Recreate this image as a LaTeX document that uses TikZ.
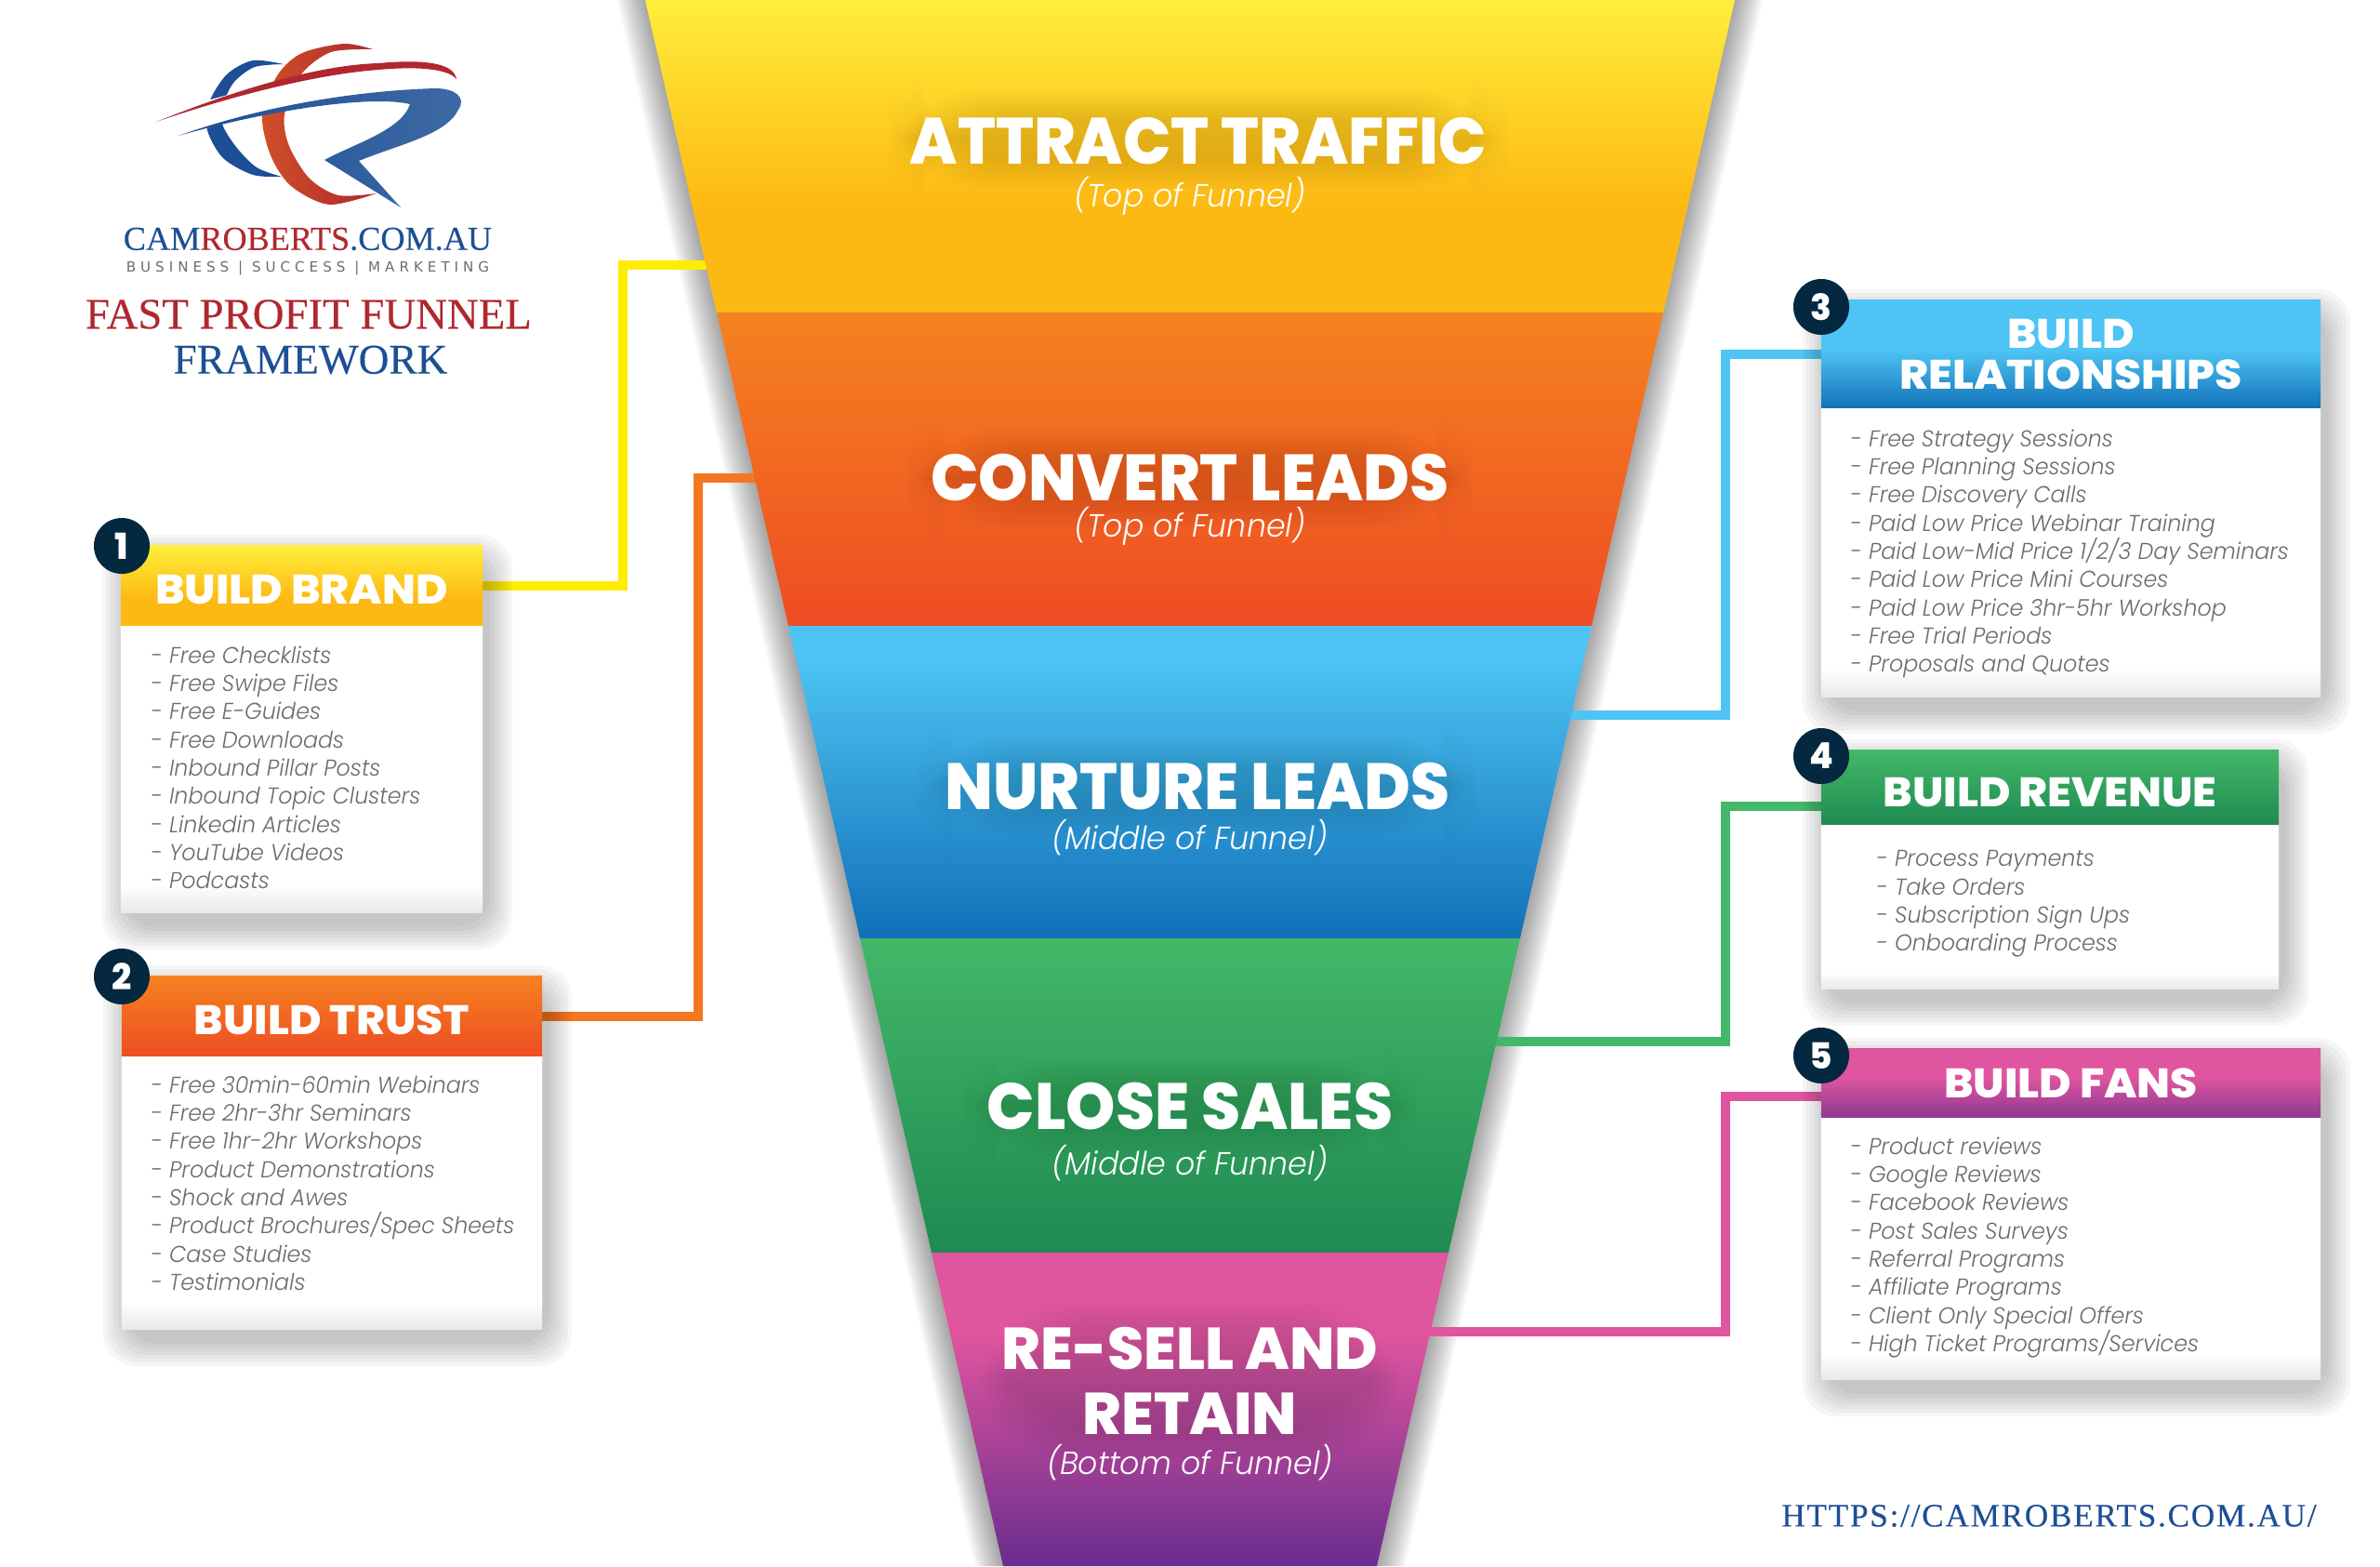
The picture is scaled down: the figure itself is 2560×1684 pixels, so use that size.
\documentclass[tikz,border=0pt]{standalone}
\usepackage{fontspec}
\usepackage{tikz}
\usetikzlibrary{positioning}
\setmainfont{Poppins}
\newfontfamily\titlefont[FakeStretch=0.965]{Poppins ExtraBold}
\newfontfamily\retainfont[FakeStretch=1.0]{Poppins ExtraBold}
\newfontfamily\headfont[FakeStretch=1.06]{Poppins ExtraBold}
\newfontfamily\itemfont[FakeStretch=0.965]{Poppins Light Italic}
\newfontfamily\logofont[FakeBold=0.25]{Liberation Serif}
\newfontfamily\linkfont[FakeBold=0.25,LetterSpace=5]{Liberation Serif}
\newfontfamily\tagfont[LetterSpace=33]{DejaVu Sans}
\definecolor{logoblue}{HTML}{1C4F95}
\definecolor{logored}{HTML}{B0272F}
\definecolor{itemgrey}{HTML}{6A6C6F}
\definecolor{badgenavy}{HTML}{04283F}
\definecolor{yellowtop}{HTML}{FFEE3A}
\definecolor{ambermid}{HTML}{FDB913}
\definecolor{orangetop}{HTML}{F58220}
\definecolor{orangelow}{HTML}{EE4C23}
\definecolor{bluetop}{HTML}{4DC4F4}
\definecolor{bluelow}{HTML}{1170B8}
\definecolor{greentop}{HTML}{43B868}
\definecolor{greenlow}{HTML}{1F8A52}
\definecolor{pinktop}{HTML}{E0559F}
\definecolor{purplelow}{HTML}{6A2D8E}
\definecolor{cardgrey}{HTML}{E9E9EA}
\pgfdeclareverticalshading{yellowband}{100bp}{color(0bp)=(ambermid); color(42bp)=(ambermid); color(75bp)=(yellowtop); color(100bp)=(yellowtop)}
\pgfdeclareverticalshading{orangeband}{100bp}{color(0bp)=(orangelow); color(25bp)=(orangelow); color(75bp)=(orangetop); color(100bp)=(orangetop)}
\pgfdeclareverticalshading{blueband}{100bp}{color(0bp)=(bluelow); color(25bp)=(bluelow); color(70bp)=(bluetop); color(100bp)=(bluetop)}
\pgfdeclareverticalshading{greenband}{100bp}{color(0bp)=(greenlow); color(25bp)=(greenlow); color(75bp)=(greentop); color(100bp)=(greentop)}
\pgfdeclareverticalshading{pinkband}{100bp}{color(0bp)=(purplelow); color(25bp)=(purplelow); color(62bp)=(pinktop); color(100bp)=(pinktop)}
\pgfdeclareverticalshading{bluehead}{100bp}{color(0bp)=(bluelow); color(25bp)=(bluelow); color(52bp)=(bluetop); color(100bp)=(bluetop)}
\pgfdeclareverticalshading{pinkhead}{100bp}{color(0bp)=(purplelow!70!pinktop); color(25bp)=(purplelow!70!pinktop); color(55bp)=(pinktop); color(100bp)=(pinktop)}
\pgfdeclareverticalshading{bodyfade}{100bp}{color(0bp)=(cardgrey); color(25bp)=(cardgrey); color(30bp)=(white); color(100bp)=(white)}
\pgfdeclarelayer{funnelshade}
\pgfdeclarelayer{lines}
\pgfsetlayers{funnelshade,lines,main}
\tikzset{x=0.01cm, y=-0.01cm,
  cardhead/.style = {shade, inner sep=0pt, outer sep=0pt, text=white, align=center,
                     font=\headfont\fontsize{12.6}{12.5}\selectfont},
  cardbody/.style = {shade, shading=bodyfade, inner sep=0pt, outer sep=0pt},
  itemlist/.style = {anchor=north west, inner sep=0pt, align=left, text=itemgrey,
                     font=\itemfont\fontsize{7}{8.62}\selectfont},
  badge/.style = {circle, fill=badgenavy, text=white, minimum size=0.6cm, inner sep=0pt,
                  font=\titlefont\fontsize{11}{11}\selectfont},
  stagetitle/.style = {text=white, inner sep=0pt, align=center,
                       font=\titlefont\fontsize{20}{20}\selectfont},
  stagenote/.style = {text=white, inner sep=0pt, font=\itemfont\fontsize{9.8}{10}\selectfont},
  link/.style = {line width=0.1cm}}
\newcommand{\softshadow}[4]{%
  \foreach \g in {2,6,...,26}
    \fill[black, opacity=.035, rounded corners=10pt]
      ({#1-\g}, {#2-\g}) rectangle ({#3+\g}, {#4+\g});}
\newcommand{\textglow}[4]{%
  \foreach \g in {0,4,...,32}
    \fill[black, opacity=.012, rounded corners=30pt]
      ({#1-#3-\g}, {#2-#4-\g}) rectangle ({#1+#3+\g}, {#2+#4+\g});}
\begin{document}
\begin{tikzpicture}
  \useasboundingbox (0, 0) rectangle (2560, 1684);
  % funnel shadow
  \begin{pgfonlayer}{funnelshade}
    \foreach \g in {3,6,...,30}
      \fill[black, opacity=.04] (694-\g, 0) -- (1866+\g, 0) -- (1481+\g, 1684) -- (1079-\g, 1684) -- cycle;
  \end{pgfonlayer}
  % connector ends
  \coordinate (trafficedge) at (780, 285);
  \coordinate (leadsedge) at (830, 514);
  \coordinate (nurtureedge) at (1670, 769);
  \coordinate (salesedge) at (1590, 1120);
  \coordinate (retainedge) at (1520, 1432);
  \coordinate (elbowbrand) at (670, 285);
  \coordinate (elbowtrust) at (751, 514);
  \coordinate (elbownurture) at (1856, 769);
  \coordinate (elbowsales) at (1856, 1120);
  \coordinate (elbowretain) at (1856, 1432);
  \coordinate (stubrevenue) at (1965, 867);
  \coordinate (stubfans) at (1965, 1179);
  % funnel bands
  \shade[shading=yellowband] (694, 0) -- (1866, 0) -- (1789, 337) -- (771, 337) -- cycle;
  \shade[shading=orangeband] (771, 336) -- (1789, 336) -- (1712, 673) -- (848, 673) -- cycle;
  \shade[shading=blueband] (848, 673) -- (1712, 673) -- (1635, 1009) -- (925, 1009) -- cycle;
  \shade[shading=greenband] (925, 1009) -- (1635, 1009) -- (1558, 1347) -- (1002, 1347) -- cycle;
  \shade[shading=pinkband] (1002, 1347) -- (1558, 1347) -- (1481, 1684) -- (1079, 1684) -- cycle;
  \textglow{1288}{150}{300}{22}
  \textglow{1280}{514}{272}{22}
  \textglow{1288}{846}{270}{22}
  \textglow{1280}{1190}{214}{22}
  \textglow{1280}{1485}{195}{55}
  \node [stagetitle] (traffic) at (1289, 152) {ATTRACT TRAFFIC};
  \node [stagenote] (trafficnote) at (1280, 211) {(Top of Funnel)};
  \node [stagetitle] (leads) at (1280, 514) {CONVERT LEADS};
  \node [stagenote] (leadsnote) at (1280, 566) {(Top of Funnel)};
  \node [stagetitle] (nurture) at (1288, 846) {NURTURE LEADS};
  \node [stagenote] (nurturenote) at (1280, 901) {(Middle of Funnel)};
  \node [stagetitle] (sales) at (1280, 1190) {CLOSE SALES};
  \node [stagenote] (salesnote) at (1280, 1251) {(Middle of Funnel)};
  \node [stagetitle, font=\retainfont\fontsize{18}{20}\selectfont] (retain) at (1280, 1485) {RE-SELL AND\\RETAIN};
  \node [stagenote] (retainnote) at (1280, 1573) {(Bottom of Funnel)};
  % cards
  \softshadow{136}{601}{525}{995}
  \softshadow{137}{1064}{589}{1443}
  \softshadow{1965}{337}{2502}{763}
  \softshadow{1965}{821}{2457}{1077}
  \softshadow{1965}{1142}{2502}{1497}
  \node [cardhead, shading=yellowband, text height=11pt, minimum width=3.89cm, minimum height=0.86cm] (headbrand) at (324.5, 630) {BUILD BRAND};
  \node [cardbody, minimum width=3.89cm, minimum height=3.08cm, below=0pt of headbrand] (bodybrand) {};
  \node [cardhead, shading=orangeband, text height=11pt, minimum width=4.52cm, minimum height=0.86cm] (headtrust) at (357, 1093) {BUILD TRUST};
  \node [cardbody, minimum width=4.52cm, minimum height=2.93cm, below=0pt of headtrust] (bodytrust) {};
  \node [cardhead, shading=bluehead, minimum width=5.37cm, minimum height=1.16cm] (headrelations) at (2227.5, 381) {BUILD\\RELATIONSHIPS};
  \node [cardbody, minimum width=5.37cm, minimum height=3.10cm, below=0pt of headrelations] (bodyrelations) {};
  \node [cardhead, shading=greenband, text height=11.6pt, minimum width=4.92cm, minimum height=0.80cm] (headrevenue) at (2205, 847) {BUILD REVENUE};
  \node [cardbody, minimum width=4.92cm, minimum height=1.76cm, below=0pt of headrevenue] (bodyrevenue) {};
  \node [cardhead, shading=pinkhead, minimum width=5.37cm, minimum height=0.74cm] (headfans) at (2227.5, 1165) {BUILD FANS};
  \node [cardbody, minimum width=5.37cm, minimum height=2.81cm, below=0pt of headfans] (bodyfans) {};
  % connectors
  \begin{pgfonlayer}{lines}
    \draw [link, color=yellow!95!orange] (headbrand.east) -| (elbowbrand) -- (trafficedge);
    \draw [link, color=orangetop!80!orangelow] (headtrust.east) -| (elbowtrust) -- (leadsedge);
    \draw [link, color=bluetop] (headrelations.west) -| (elbownurture) -- (nurtureedge);
    \draw [link, color=greentop] (stubrevenue) -| (elbowsales) -- (salesedge);
    \draw [link, color=pinktop] (stubfans) -| (elbowretain) -- (retainedge);
  \end{pgfonlayer}
  \node [itemlist] (listbrand) at (162, 694) {- Free Checklists\\- Free Swipe Files\\- Free E-Guides\\- Free Downloads\\- Inbound Pillar Posts\\- Inbound Topic Clusters\\- Linkedin Articles\\- YouTube Videos\\- Podcasts};
  \node [itemlist] (listtrust) at (162, 1156) {- Free 30min-60min Webinars\\- Free 2hr-3hr Seminars\\- Free 1hr-2hr Workshops\\- Product Demonstrations\\- Shock and Awes\\- Product Brochures/Spec Sheets\\- Case Studies\\- Testimonials};
  \node [itemlist] (listrelations) at (1990, 461) {- Free Strategy Sessions\\- Free Planning Sessions\\- Free Discovery Calls\\- Paid Low Price Webinar Training\\- Paid Low-Mid Price 1/2/3 Day Seminars\\- Paid Low Price Mini Courses\\- Paid Low Price 3hr-5hr Workshop\\- Free Trial Periods\\- Proposals and Quotes};
  \node [itemlist] (listrevenue) at (2018, 914) {- Process Payments\\- Take Orders\\- Subscription Sign Ups\\- Onboarding Process};
  \node [itemlist] (listfans) at (1990, 1222) {- Product reviews\\- Google Reviews\\- Facebook Reviews\\- Post Sales Surveys\\- Referral Programs\\- Affiliate Programs\\- Client Only Special Offers\\- High Ticket Programs/Services};
  \node [badge] (badgeone) at (131, 587) {1};
  \node [badge] (badgetwo) at (131, 1050) {2};
  \node [badge] (badgethree) at (1959, 330) {3};
  \node [badge] (badgefour) at (1959, 813) {4};
  \node [badge] (badgefive) at (1959, 1135) {5};
  % logo
  \fill [logoblue] plot [smooth] coordinates {(305, 69) (272, 65) (244, 80) (225, 110) (223, 140) (240, 170) (272, 188) (303, 190)} -- plot [smooth] coordinates {(303, 190) (276, 180) (254, 158) (239, 133) (241, 110) (252, 88) (274, 72) (305, 69)} -- cycle;
  \shade [left color=orangetop!45!logored, right color=logored] plot [smooth] coordinates {(401, 53) (370, 47) (325, 57) (299, 80) (282, 123) (291, 167) (313, 200) (354, 220) (405, 208)} -- plot [smooth] coordinates {(405, 208) (364, 210) (333, 192) (311, 157) (306, 123) (324, 80) (356, 56) (401, 53)} -- cycle;
  \fill [white] (168, 131) -- (223, 108) -- (337, 77) -- (468, 72) -- (490, 85) -- (495, 107) -- (468, 95) -- (386, 100) -- (305, 115) -- (192, 146) -- cycle;
  \fill [logored] (168, 131) .. controls (250, 98) and (340, 70) .. (407, 68) .. controls (450, 64) and (488, 66) .. (491, 85) .. controls (480, 72) and (440, 72) .. (407, 75) .. controls (340, 80) and (250, 103) .. (168, 131) -- cycle;
  \shade [left color=logoblue, middle color=logoblue, right color=logoblue!85!white] (192, 146) .. controls (270, 118) and (370, 98) .. (468, 95) .. controls (490, 95) and (502, 105) .. (493, 118) .. controls (480, 145) and (430, 155) .. (386, 173) -- (431, 223) -- (349, 172) .. controls (380, 155) and (432, 140) .. (441, 112) .. controls (400, 102) and (290, 118) .. (192, 146) -- cycle;
  \node [inner sep=0pt, font=\logofont\fontsize{10.3}{10}\selectfont] (brandname) at (331, 257) {\textcolor{logoblue}{CAM}\textcolor{logored}{ROBERTS}\textcolor{logoblue}{.COM.AU}};
  \node [inner sep=0pt, text=itemgrey, font=\tagfont\fontsize{4.3}{4}\selectfont] (brandtag) at (331, 288) {BUSINESS | SUCCESS | MARKETING};
  \node [inner sep=0pt, text=logored, font=\logofont\fontsize{13.3}{14}\selectfont] (framefirst) at (332, 338) {FAST PROFIT FUNNEL};
  \node [inner sep=0pt, text=logoblue, font=\logofont\fontsize{12.9}{14}\selectfont] (framesecond) at (334, 387) {FRAMEWORK};
  \node [inner sep=0pt, text=logoblue, font=\linkfont\fontsize{10}{10}\selectfont] (weblink) at (2204, 1630) {HTTPS://CAMROBERTS.COM.AU/};
\end{tikzpicture}
\end{document}
